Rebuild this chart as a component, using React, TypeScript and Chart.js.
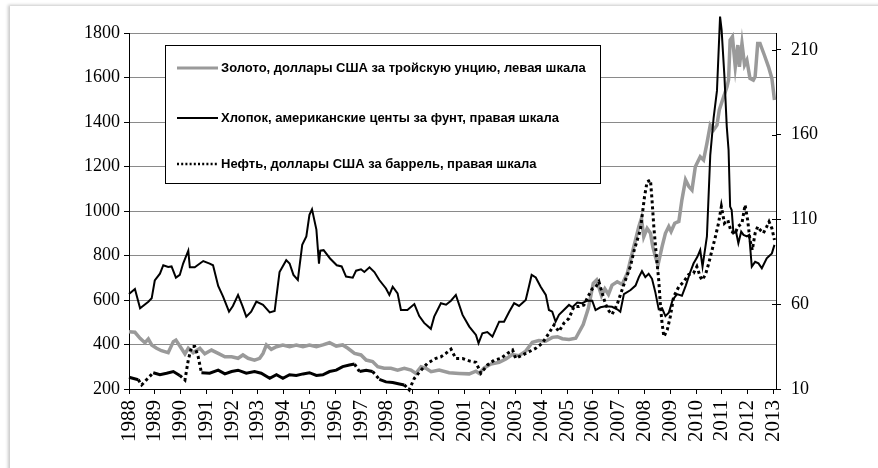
import React, { useEffect, useRef } from "react";
import { Chart, registerables } from "chart.js";

Chart.register(...registerables);

// Years shown on the horizontal axis
const yearLabels: number[] = [];
for (let y = 1988; y <= 2013; y++) yearLabels.push(y);

const leftTicks = [200, 400, 600, 800, 1000, 1200, 1400, 1600, 1800];
const rightTicks = [10, 60, 110, 160, 210];

const seriesNames = [
  "Золото, доллары США за тройскую унцию, левая шкала",
  "Хлопок, американские центы за фунт, правая шкала",
  "Нефть, доллары США за баррель, правая шкала",
];

// Gold, USD per troy ounce (left axis)
const goldYears = [
  1988.0, 1988.23, 1988.43, 1988.62, 1988.75, 1988.88, 1989.07, 1989.26, 1989.52, 1989.72, 1989.82,
  1990.03, 1990.17, 1990.3, 1990.49, 1990.75, 1990.94, 1991.2, 1991.46, 1991.72, 1991.98, 1992.23,
  1992.42, 1992.62, 1992.87, 1993.07, 1993.2, 1993.33, 1993.52, 1993.72, 1993.97, 1994.23, 1994.49,
  1994.75, 1995.0, 1995.27, 1995.52, 1995.78, 1996.04, 1996.29, 1996.49, 1996.75, 1997.0, 1997.2,
  1997.45, 1997.65, 1997.9, 1998.16, 1998.42, 1998.68, 1998.94, 1999.13, 1999.33, 1999.52, 1999.72,
  2000.03, 2000.42, 2000.81, 2001.2, 2001.46, 2001.59, 2001.78, 2002.04, 2002.36, 2002.62, 2002.87,
  2003.13, 2003.39, 2003.65, 2003.9, 2004.16, 2004.42, 2004.62, 2004.81, 2005.07, 2005.33, 2005.62,
  2005.82, 2006.01, 2006.14, 2006.33, 2006.46, 2006.6, 2006.74, 2006.94, 2007.13, 2007.33, 2007.52,
  2007.65, 2007.78, 2007.88, 2007.97, 2008.1, 2008.23, 2008.32, 2008.42, 2008.52, 2008.68, 2008.81,
  2008.94, 2009.03, 2009.17, 2009.33, 2009.45, 2009.59, 2009.72, 2009.84, 2009.97, 2010.16, 2010.29,
  2010.42, 2010.55, 2010.68, 2010.81, 2010.9, 2011.07, 2011.2, 2011.26, 2011.32, 2011.41, 2011.52,
  2011.62, 2011.68, 2011.78, 2011.88, 2011.97, 2012.09, 2012.22, 2012.29, 2012.39, 2012.48, 2012.65,
  2012.81, 2012.94, 2013.04,
];
const goldValues = [
  457, 455, 428, 408, 425, 398, 383, 372, 363, 413, 420,
  383, 358, 383, 363, 383, 358, 375, 360, 345, 345, 338,
  353, 338, 330, 338, 360, 398, 378, 390, 398, 390, 398,
  390, 398, 390, 398, 408, 393, 398, 383, 360, 353, 330,
  323, 300, 293, 293, 285, 293, 285, 270, 300, 293, 278,
  285, 273, 270, 268, 280, 270, 295, 312, 320, 335, 355,
  350, 370, 410, 418, 415, 432, 435, 426, 423, 428, 490,
  563, 675, 690, 620, 650, 625, 667, 682, 670, 720, 810,
  870, 930, 967, 884, 922, 900, 840, 795, 757, 840, 900,
  930, 908, 945, 953, 1050, 1140, 1110, 1094, 1199, 1244, 1229,
  1304, 1386, 1364, 1386, 1454, 1514, 1558, 1590, 1768, 1783, 1648,
  1746, 1648, 1753, 1656, 1678, 1596, 1588, 1603, 1753, 1753, 1700,
  1648, 1596, 1499,
];

// Cotton, US cents per pound (right axis)
const cottonYears = [
  1988.0, 1988.23, 1988.43, 1988.75, 1988.88, 1989.0, 1989.2, 1989.33, 1989.52, 1989.65, 1989.82,
  1989.97, 1990.1, 1990.3, 1990.36, 1990.55, 1990.88, 1991.13, 1991.26, 1991.46, 1991.65, 1991.88,
  1992.03, 1992.23, 1992.4, 1992.55, 1992.74, 1992.94, 1993.2, 1993.46, 1993.65, 1993.84, 1994.1,
  1994.23, 1994.38, 1994.55, 1994.72, 1994.88, 1995.0, 1995.1, 1995.27, 1995.37, 1995.42, 1995.55,
  1995.8, 1996.06, 1996.25, 1996.42, 1996.68, 1996.81, 1997.0, 1997.13, 1997.33, 1997.52, 1997.71,
  1997.97, 1998.1, 1998.23, 1998.42, 1998.55, 1998.8, 1999.07, 1999.26, 1999.45, 1999.71, 1999.84,
  2000.1, 2000.3, 2000.49, 2000.68, 2000.94, 2001.2, 2001.46, 2001.56, 2001.71, 2001.9, 2002.1,
  2002.36, 2002.55, 2002.75, 2002.94, 2003.13, 2003.39, 2003.52, 2003.62, 2003.78, 2003.97, 2004.17,
  2004.29, 2004.42, 2004.55, 2004.68, 2004.87, 2005.07, 2005.2, 2005.39, 2005.58, 2005.78, 2005.97,
  2006.1, 2006.29, 2006.49, 2006.74, 2006.94, 2007.06, 2007.2, 2007.46, 2007.65, 2007.78, 2007.9,
  2008.03, 2008.16, 2008.29, 2008.42, 2008.55, 2008.68, 2008.81, 2008.94, 2009.09, 2009.26, 2009.45,
  2009.6, 2009.75, 2009.9, 2010.05, 2010.16, 2010.25, 2010.42, 2010.55, 2010.68, 2010.81, 2010.93,
  2010.99, 2011.1, 2011.19, 2011.26, 2011.32, 2011.38, 2011.45, 2011.55, 2011.64, 2011.75, 2011.84,
  2011.97, 2012.06, 2012.16, 2012.29, 2012.42, 2012.55, 2012.74, 2012.94, 2013.04,
];
const cottonValues = [
  66, 69, 57.6, 61.5, 63.5, 74, 78, 83, 82, 82.3, 75.7,
  77.3, 84, 91.6, 81.8, 81.8, 85.5, 84, 83, 70.8, 64.5, 55.6,
  59, 65.5, 59, 52.7, 55.6, 61.5, 59.6, 55.2, 56, 79, 86,
  84, 77.3, 74.3, 95, 100, 112.7, 116, 104, 84, 91.6, 91.9,
  87, 83, 82.3, 76.3, 75.7, 79.8, 80.6, 79, 81.8, 79, 74.3,
  69.3, 65.5, 70.3, 66.4, 56.6, 56.6, 60.1, 53, 49, 45.5, 52.7,
  60.6, 59.7, 62.1, 65.5, 53.7, 46.8, 41.9, 37, 42.9, 43.6, 40.9,
  49.7, 49.7, 55.6, 60.6, 59, 62.5, 70.8, 77.3, 75.8, 70.3, 65.5,
  56.6, 55.6, 49.7, 53.7, 56.6, 59.6, 58.2, 61, 60.6, 62.1, 62.1,
  56.6, 58.2, 58.8, 58.5, 57, 55.6, 66, 68.4, 71, 76, 79.5,
  76, 78, 75, 67, 57, 57.6, 53, 55, 62.5, 66, 65,
  71, 78, 84, 88, 92, 82.2, 100, 148, 170, 186, 229.7,
  221.8, 194.3, 164.8, 151, 117.6, 115.6, 101.9, 102.8, 96, 102.8, 100.9,
  100, 100.9, 82.2, 85, 84.1, 81.2, 87.1, 90, 95,
];

// Oil, USD per barrel (right axis)
const oilYears = [
  1988.0, 1988.36, 1988.49, 1988.68, 1988.94, 1989.2, 1989.46, 1989.72, 1989.97, 1990.17, 1990.3,
  1990.43, 1990.55, 1990.68, 1990.81, 1991.13, 1991.46, 1991.72, 1991.98, 1992.23, 1992.55, 1992.87,
  1993.13, 1993.46, 1993.72, 1993.97, 1994.23, 1994.49, 1994.75, 1995.0, 1995.27, 1995.52, 1995.78,
  1996.04, 1996.29, 1996.55, 1996.75, 1996.94, 1997.2, 1997.45, 1997.71, 1997.97, 1998.23, 1998.49,
  1998.68, 1998.87, 1999.07, 1999.33, 1999.58, 1999.91, 2000.1, 2000.29, 2000.49, 2000.68, 2000.94,
  2001.2, 2001.46, 2001.65, 2001.91, 2002.17, 2002.43, 2002.68, 2002.88, 2003.0, 2003.26, 2003.52,
  2003.78, 2004.03, 2004.29, 2004.49, 2004.68, 2004.87, 2005.07, 2005.26, 2005.46, 2005.65, 2005.84,
  2005.97, 2006.1, 2006.23, 2006.36, 2006.49, 2006.62, 2006.74, 2006.94, 2007.06, 2007.26, 2007.45,
  2007.6, 2007.84, 2008.0, 2008.1, 2008.23, 2008.29, 2008.36, 2008.45, 2008.55, 2008.62, 2008.68,
  2008.75, 2008.88, 2009.0, 2009.13, 2009.33, 2009.52, 2009.71, 2009.9, 2010.03, 2010.16, 2010.23,
  2010.36, 2010.49, 2010.62, 2010.75, 2010.87, 2010.98, 2011.1, 2011.23, 2011.36, 2011.52, 2011.62,
  2011.78, 2011.9, 2012.0, 2012.09, 2012.18, 2012.29, 2012.39, 2012.48, 2012.61, 2012.74, 2012.83,
  2012.94, 2013.04,
];
const oilValues = [
  16.9, 15.5, 12.4, 15.5, 19.6, 18.4, 19.3, 20.3, 18, 15.3, 27.1,
  35, 35, 29.3, 19.6, 19.3, 21.1, 18.9, 20.3, 21.1, 19.3, 20.3,
  19.3, 16.3, 18.4, 16.3, 18.4, 18, 18.9, 19.6, 18, 18.4, 20.3,
  21.1, 23.2, 24.2, 24.7, 20.3, 21.1, 20.3, 15.7, 14.2, 13.8, 13,
  12.4, 9.5, 16.3, 21.1, 25.2, 28.1, 29, 31, 33.5, 28, 28,
  26.6, 25.7, 19.3, 24.2, 27.1, 28.1, 31, 33, 28.1, 30, 32,
  34, 37, 42.9, 47.8, 43.9, 48.8, 51.7, 58.6, 58.6, 59.6, 65.5,
  69, 70, 73.3, 66.4, 60, 56, 54, 60, 65.5, 74.3, 82.2,
  92, 104, 123.5, 132.3, 133.3, 121.5, 105.8, 90, 74.3, 58.6, 48.8,
  40.9, 44.8, 52.7, 64.5, 70.3, 73.3, 77.5, 78.3, 82.2, 76.3, 74.3,
  77.3, 84.1, 92, 99.9, 107.8, 117.6, 107.8, 109.7, 102.8, 101.9, 105.8,
  107.8, 118.6, 109.7, 97.9, 92, 101.9, 105.8, 103.9, 101.9, 105.8, 108.7,
  104.8, 97.9,
];

const toPoints = (xs: number[], ys: number[]) => xs.map((x, i) => ({ x, y: ys[i] }));

const GOLD_COLOR = "#9a9a9a";
const GRID_COLOR = "#8a8a8a";
const DOT_PATTERN = [3, 3];

// Dotted pattern shows where the monthly moves are large (steep stretches, higher
// price levels); on quiet, nearly flat stretches the dots merge into a solid line.
const oilSegmentDash = (ctx: any) => {
  const dx = Math.abs(ctx.p1.x - ctx.p0.x) || 0.001;
  const dy = Math.abs(ctx.p1.y - ctx.p0.y);
  const v0 = oilValues[ctx.p0DataIndex];
  const v1 = oilValues[ctx.p1DataIndex];
  const level = (v0 + v1) / 2;
  return dy / dx >= 0.75 || dy >= 6 || level >= 25 ? DOT_PATTERN : [];
};

const legendPlugin = {
  id: "boxLegend",
  afterDraw(chart: any) {
    const { ctx, chartArea } = chart;
    const bx = chartArea.left + 36;
    const by = chartArea.top + 12;
    const bw = 435;
    const bh = 138;
    ctx.save();
    ctx.fillStyle = "#ffffff";
    ctx.fillRect(bx, by, bw, bh);
    ctx.strokeStyle = "#000000";
    ctx.lineWidth = 1;
    ctx.setLineDash([]);
    ctx.strokeRect(bx + 0.5, by + 0.5, bw, bh);
    const rows = [23, 73, 119];
    const ds = chart.data.datasets;
    [0, 1, 2].forEach((di, i) => {
      const d = ds[di];
      const y = by + rows[i];
      ctx.beginPath();
      ctx.strokeStyle = d.borderColor;
      if (di === 2) {
        ctx.lineWidth = 2.5;
        ctx.setLineDash([2, 2.2]);
      } else {
        ctx.lineWidth = di === 0 ? 3 : 2;
        ctx.setLineDash([]);
      }
      ctx.moveTo(bx + 12, y);
      ctx.lineTo(bx + 53, y);
      ctx.stroke();
      ctx.setLineDash([]);
      ctx.fillStyle = "#000000";
      ctx.font = "bold 13px 'Liberation Sans', Arial, sans-serif";
      ctx.textBaseline = "middle";
      ctx.textAlign = "left";
      ctx.fillText(d.label, bx + 56, y);
    });
    ctx.restore();
  },
};

const crossTicksPlugin = {
  id: "crossTicks",
  afterDraw(chart: any) {
    const { ctx, chartArea } = chart;
    const s = chart.scales.y1;
    ctx.save();
    ctx.strokeStyle = "#000";
    ctx.lineWidth = 1;
    s.ticks.forEach((t: any) => {
      const py = Math.round(s.getPixelForValue(t.value)) + 0.5;
      ctx.beginPath();
      ctx.moveTo(chartArea.right - 4, py);
      ctx.lineTo(chartArea.right, py);
      ctx.stroke();
    });
    ctx.restore();
  },
};

export default function App() {
  const canvasRef = useRef<HTMLCanvasElement | null>(null);

  useEffect(() => {
    if (!canvasRef.current) return;
    const serif = "'Liberation Serif', 'Times New Roman', serif";
    const chart = new Chart(canvasRef.current, {
      type: "line",
      data: {
        datasets: [
          {
            label: seriesNames[0],
            data: toPoints(goldYears, goldValues),
            borderColor: GOLD_COLOR,
            borderWidth: 3.5,
            pointRadius: 0,
            yAxisID: "y",
            order: 3,
            tension: 0,
            clip: false as any,
          },
          {
            label: seriesNames[1],
            data: toPoints(cottonYears, cottonValues),
            borderColor: "#000000",
            borderWidth: 2,
            pointRadius: 0,
            yAxisID: "y1",
            order: 2,
            tension: 0,
            clip: false as any,
          },
          {
            label: seriesNames[2],
            data: toPoints(oilYears, oilValues),
            borderColor: "#000000",
            borderWidth: 3,
            borderDash: DOT_PATTERN,
            segment: { borderDash: oilSegmentDash },
            pointRadius: 0,
            yAxisID: "y1",
            order: 1,
            tension: 0,
            clip: false as any,
          },
        ],
      },
      options: {
        animation: false,
        responsive: false,
        maintainAspectRatio: false,
        devicePixelRatio: 1,
        layout: { padding: { top: 33, left: 0, right: 0, bottom: 0 } },
        plugins: {
          legend: { display: false },
          tooltip: { enabled: false },
        },
        scales: {
          x: {
            type: "linear",
            position: "bottom",
            min: 1988,
            max: 2013.1,
            afterBuildTicks: (s: any) => {
              s.ticks = yearLabels.map((v) => ({ value: v }));
            },
            afterFit: (s: any) => {
              s.height = 79;
            },
            ticks: {
              autoSkip: false,
              maxRotation: 90,
              minRotation: 90,
              padding: 6,
              color: "#000",
              font: { family: serif, size: 21 },
              callback: (v: any) => String(v),
            },
            grid: {
              drawOnChartArea: false,
              drawTicks: true,
              tickLength: 5,
              color: "#000",
            },
            border: { color: "#000", width: 1 },
          },
          y: {
            type: "linear",
            position: "left",
            min: 200,
            max: 1800,
            afterBuildTicks: (s: any) => {
              s.ticks = leftTicks.map((v) => ({ value: v }));
            },
            afterFit: (s: any) => {
              s.width = 129;
            },
            ticks: {
              padding: 4,
              color: "#000",
              font: { family: serif, size: 18 },
              callback: (v: any) => String(v),
            },
            grid: {
              color: GRID_COLOR,
              tickColor: "#000",
              tickLength: 5,
              lineWidth: 1,
            },
            border: { color: "#000", width: 1 },
          },
          y1: {
            type: "linear",
            position: "right",
            min: 10,
            max: 220,
            afterBuildTicks: (s: any) => {
              s.ticks = rightTicks.map((v) => ({ value: v }));
            },
            afterFit: (s: any) => {
              s.width = 102;
            },
            ticks: {
              padding: 10,
              color: "#000",
              font: { family: serif, size: 18 },
              callback: (v: any) => String(v),
            },
            grid: {
              drawOnChartArea: false,
              tickLength: 5,
              color: "#000",
            },
            border: { color: "#000", width: 1 },
          },
        },
      },
      plugins: [legendPlugin, crossTicksPlugin],
    });
    return () => chart.destroy();
  }, []);

  return (
    <div style={{ position: "fixed", left: 0, top: 0, width: 878, height: 468, background: "#fff", overflow: "hidden" }}>
      <div
        style={{
          position: "absolute",
          left: 10,
          top: 6,
          width: 880,
          height: 470,
          background: "#fff",
          boxShadow: "-2px -1px 3px rgba(0,0,0,0.22)",
        }}
      />
      <canvas ref={canvasRef} width={878} height={468} style={{ position: "absolute", left: 0, top: 0, width: 878, height: 468 }} />
    </div>
  );
}
